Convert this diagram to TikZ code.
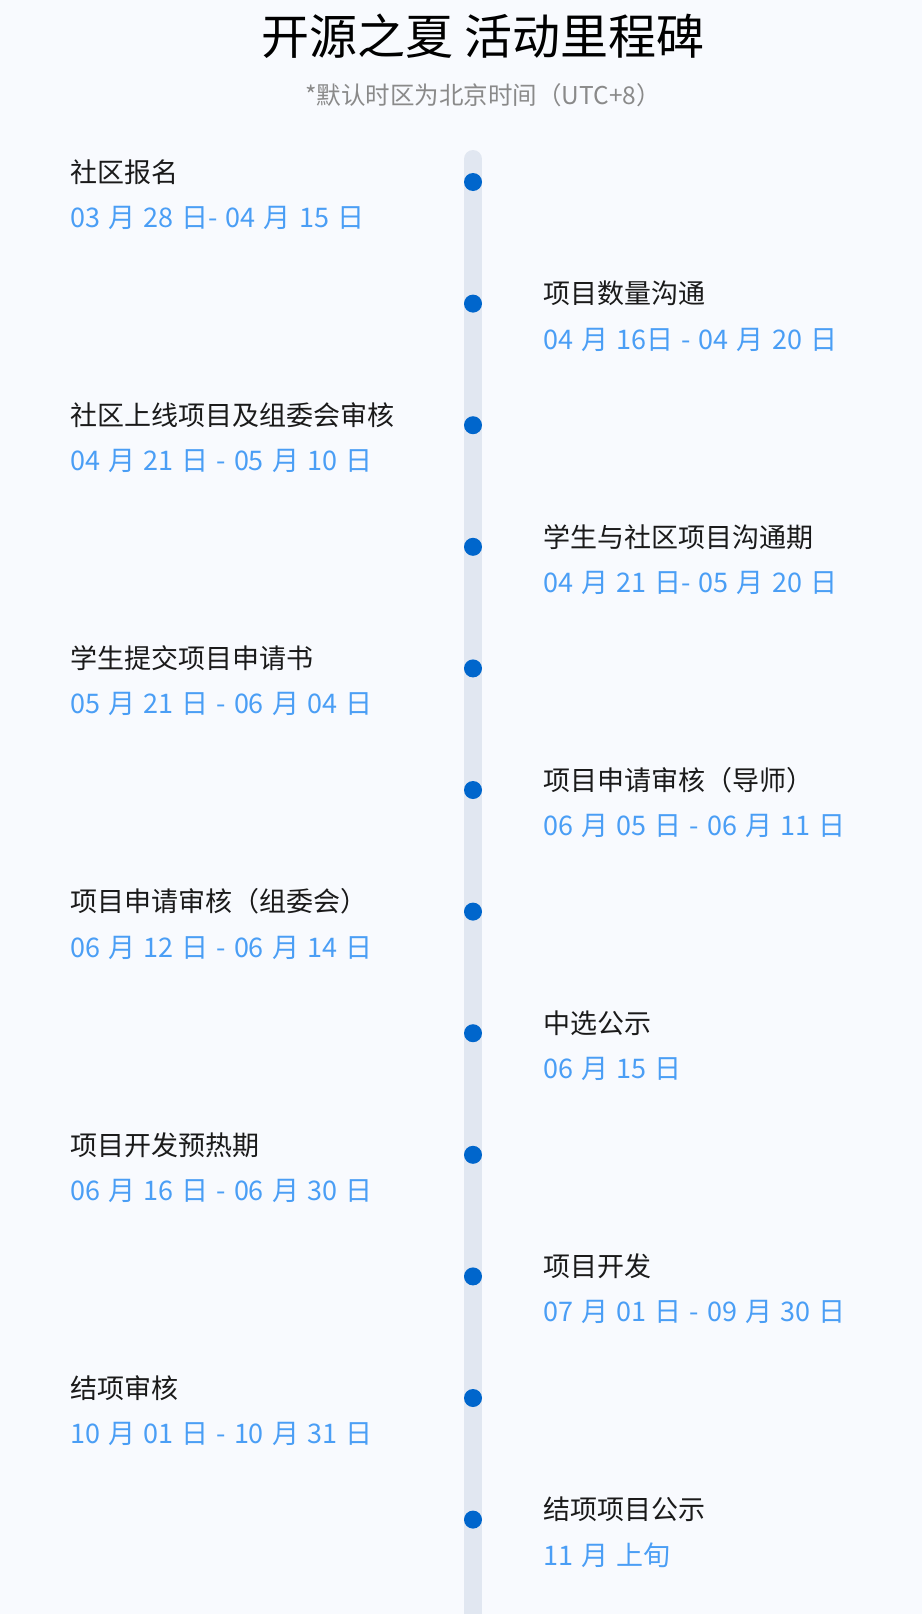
\documentclass[tikz,border=0pt]{standalone}
\usepackage{fontspec}
\setmainfont{Noto Sans CJK SC}
\usetikzlibrary{positioning}
\definecolor{pagebg}{HTML}{F8FAFE}
\definecolor{railgray}{HTML}{E1E7F1}
\definecolor{dotblue}{HTML}{0066CC}
\definecolor{dateblue}{HTML}{4A9EF5}
\definecolor{ink}{HTML}{1A1A1A}
\definecolor{notegray}{HTML}{8A8A8A}
\tikzset{
  rail/.style={line width=18pt, draw=railgray, line cap=round},
  msdot/.style={circle, fill=dotblue, minimum size=18pt, inner sep=0pt},
  stage/.style={anchor=west, inner sep=0pt, text=ink, font=\fontsize{27}{32}\selectfont},
  when/.style={anchor=west, inner sep=0pt, text=dateblue,
    font={\fontsize{27}{32}\selectfont\spaceskip=0.3em\relax}},
}

\begin{document}
\begin{tikzpicture}[x=1pt, y=-1pt]
  \fill[pagebg] (0,0) rectangle (922,1614);
  \useasboundingbox (0,0) rectangle (922,1614);
  \node[font=\fontsize{48}{54}\selectfont, text=black] (title) at (483,36) {开源之夏 活动里程碑};
  \node[font=\fontsize{24.5}{28}\selectfont, text=notegray] (note) at (483,95) {*默认时区为北京时间（UTC+8）};
  \coordinate (railtop) at (473,159);
  \coordinate (railend) at (473,1640);
  \draw[rail] (railtop) -- (railend);
  \foreach \i/\sx/\msname/\msdate in {
      1/70/社区报名/03 月 28 日- 04 月 15 日,
      2/543/项目数量沟通/04 月 16日 - 04 月 20 日,
      3/70/社区上线项目及组委会审核/04 月 21 日 - 05 月 10 日,
      4/543/学生与社区项目沟通期/04 月 21 日- 05 月 20 日,
      5/70/学生提交项目申请书/05 月 21 日 - 06 月 04 日,
      6/543/项目申请审核（导师）/06 月 05 日 - 06 月 11 日,
      7/70/项目申请审核（组委会）/06 月 12 日 - 06 月 14 日,
      8/543/中选公示/06 月 15 日,
      9/70/项目开发预热期/06 月 16 日 - 06 月 30 日,
      10/543/项目开发/07 月 01 日 - 09 月 30 日,
      11/70/结项审核/10 月 01 日 - 10 月 31 日,
      12/543/结项项目公示/11 月 上旬}{
    \node[msdot] (dot\i) at (473,{182+(\i-1)*121.6}) {};
    \node[stage] (lbl\i) at (\sx,{172+(\i-1)*121.6}) {\msname};
    \node[when] (date\i) at (\sx,{218+(\i-1)*121.6}) {\msdate};
  }
\end{tikzpicture}
\end{document}
